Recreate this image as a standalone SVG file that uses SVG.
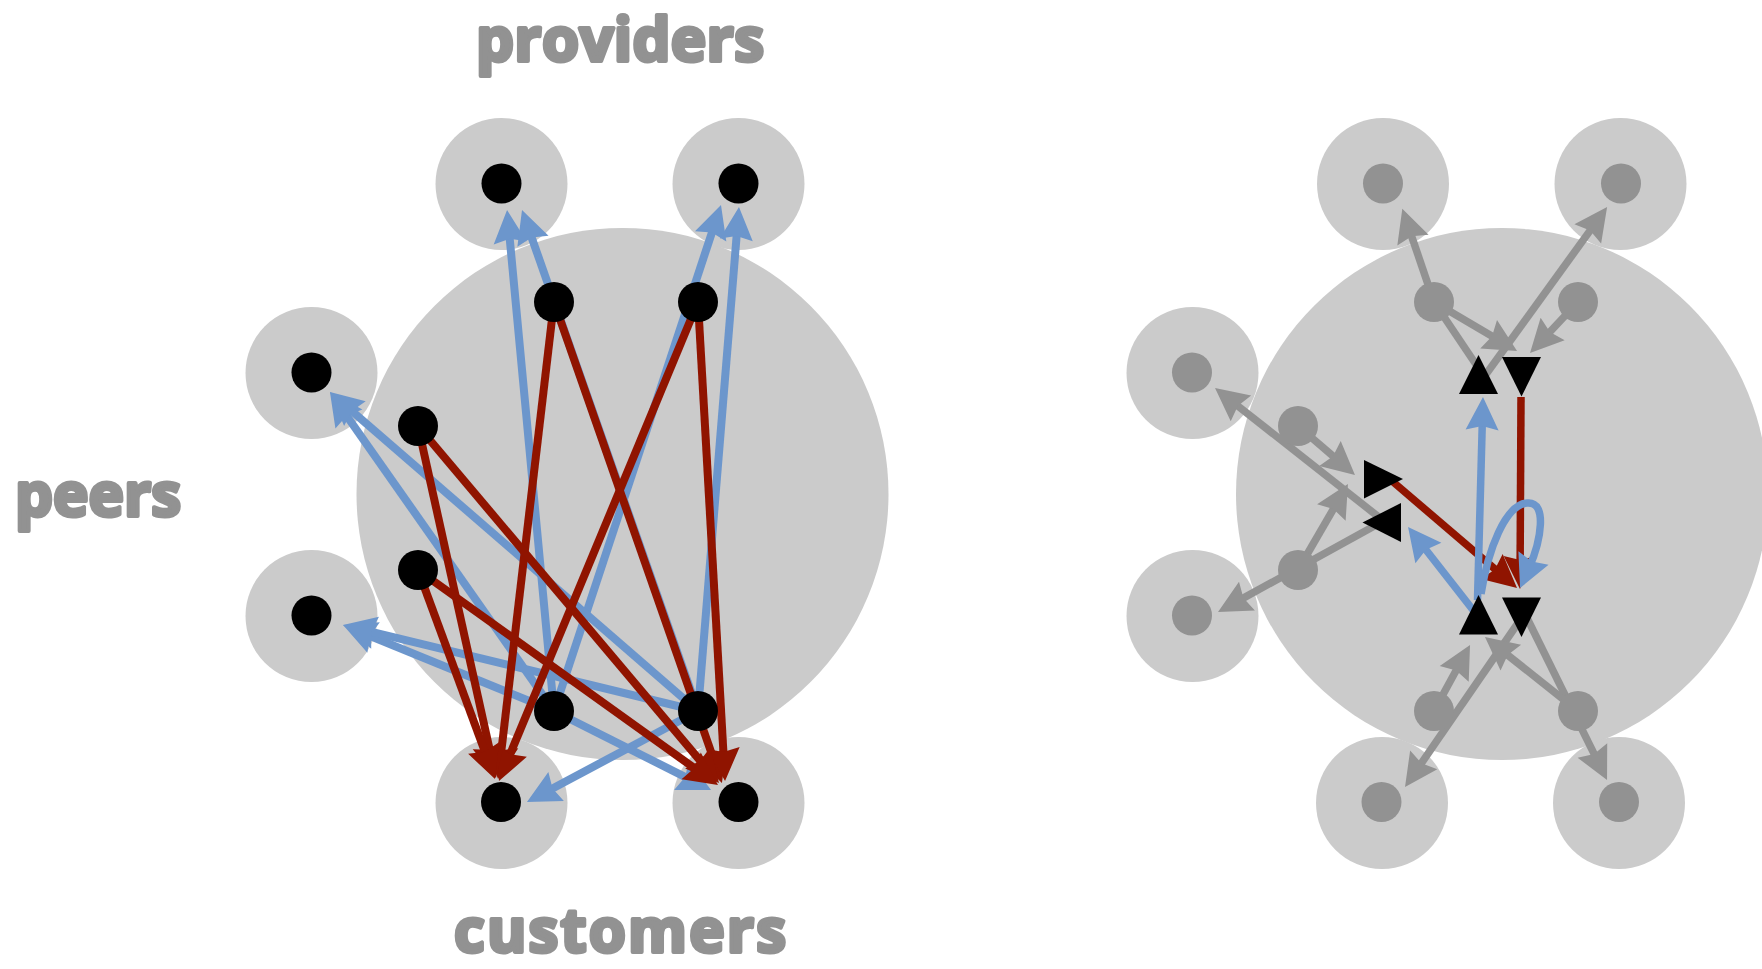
<svg xmlns="http://www.w3.org/2000/svg" width="1762" height="969" viewBox="0 0 1762 969">
<defs>
<style>
.big,.ring{fill:#cbcbcb}
.dot{fill:#000}
.gdot{fill:#929292}
.tri{fill:#000}
.bl{fill:none;stroke:#6c96cc;stroke-width:8;marker-end:url(#mb)}
.rd{fill:none;stroke:#901400;stroke-width:8;marker-end:url(#mr)}
.bl2{fill:none;stroke:#6c96cc;stroke-width:7.5;marker-end:url(#mb)}
.rd2{fill:none;stroke:#901400;stroke-width:7.5;marker-end:url(#mr)}
.gy{fill:none;stroke:#929292;stroke-width:7.5;marker-end:url(#mg)}
.gn{fill:none;stroke:#929292;stroke-width:7.5}
.lbl{font-family:"Open Sans","Liberation Sans",sans-serif;font-weight:700;font-size:60px;fill:#929292;stroke:#929292;stroke-width:4;stroke-linejoin:round}
</style>
<marker id="mb" markerUnits="userSpaceOnUse" orient="auto" refX="0" refY="0" markerWidth="40" markerHeight="40" overflow="visible"><path d="M22,0 L-11,-16.5 L-7,0 L-11,16.5 z" fill="#6c96cc"/></marker>
<marker id="mr" markerUnits="userSpaceOnUse" orient="auto" refX="0" refY="0" markerWidth="40" markerHeight="40" overflow="visible"><path d="M22,0 L-11,-16.5 L-7,0 L-11,16.5 z" fill="#901400"/></marker>
<marker id="mg" markerUnits="userSpaceOnUse" orient="auto" refX="0" refY="0" markerWidth="40" markerHeight="40" overflow="visible"><path d="M22,0 L-11,-16.5 L-7,0 L-11,16.5 z" fill="#929292"/></marker>
</defs>
<rect width="1762" height="969" fill="#fff"/>

<!-- labels -->
<text class="lbl" x="476" y="61" textLength="288" lengthAdjust="spacing">providers</text>
<text class="lbl" x="15" y="516" textLength="166" lengthAdjust="spacing">peers</text>
<text class="lbl" x="454" y="952" textLength="332" lengthAdjust="spacing">customers</text>

<!-- LEFT DIAGRAM -->
<circle id="L-as" class="big" cx="622.5" cy="494" r="266"/>
<g id="L-prov1"><circle class="ring" cx="501.5" cy="184" r="66"/><circle class="dot" cx="501.5" cy="183.5" r="20"/></g>
<g id="L-prov2"><circle class="ring" cx="738.5" cy="184" r="66"/><circle class="dot" cx="738.5" cy="183.5" r="20"/></g>
<g id="L-peer1"><circle class="ring" cx="311.5" cy="373" r="66"/><circle class="dot" cx="311.5" cy="372.5" r="20"/></g>
<g id="L-peer2"><circle class="ring" cx="311.5" cy="616" r="66"/><circle class="dot" cx="311.5" cy="615.5" r="20"/></g>
<g id="L-cust1"><circle class="ring" cx="501.5" cy="803" r="66"/><circle class="dot" cx="501" cy="802" r="20"/></g>
<g id="L-cust2"><circle class="ring" cx="738.5" cy="803" r="66"/><circle class="dot" cx="738.5" cy="802" r="20"/></g>

<g id="L-connectors">
<path class="bl" d="M554,711 L509.1,231.9"/>
<path class="bl" d="M698,711 L529.3,230.8"/>
<path class="bl" d="M554,711 L714.1,225.9"/>
<path class="bl" d="M698,711 L737.2,228.9"/>
<path class="bl" d="M554,711 L342.6,410"/>
<path class="bl" d="M698,711 L346.6,406.4"/>
<path class="bl" d="M554,711 L363.4,633.3"/>
<path class="bl" d="M698,711 L364.4,630.2"/>
<path class="bl" d="M698,711 L546.4,791.7"/>
<path class="bl" d="M554,711 L691.4,780.1"/>
<path class="rd" d="M554,302 L500.6,757.2"/>
<path class="rd" d="M698,302 L507.4,760.7"/>
<path class="rd" d="M418,426 L491.2,756.5"/>
<path class="rd" d="M418,570 L487.4,758.4"/>
<path class="rd" d="M554,302 L714.7,762.2"/>
<path class="rd" d="M698,302 L723.8,759"/>
<path class="rd" d="M418,426 L704.8,766.2"/>
<path class="rd" d="M418,570 L700.1,772.2"/>
</g>

<g id="L-in-prov1"><circle class="dot" cx="554" cy="302" r="20"/></g>
<g id="L-in-prov2"><circle class="dot" cx="698" cy="302" r="20"/></g>
<g id="L-in-peer1"><circle class="dot" cx="418" cy="426" r="20"/></g>
<g id="L-in-peer2"><circle class="dot" cx="418" cy="570" r="20"/></g>
<g id="L-in-cust1"><circle class="dot" cx="554" cy="711" r="20"/></g>
<g id="L-in-cust2"><circle class="dot" cx="698" cy="711" r="20"/></g>

<!-- RIGHT DIAGRAM -->
<circle id="R-as" class="big" cx="1502" cy="494" r="266"/>
<g id="R-prov1"><circle class="ring" cx="1383" cy="184" r="66"/><circle class="gdot" cx="1383" cy="183.5" r="20"/></g>
<g id="R-prov2"><circle class="ring" cx="1620.5" cy="184" r="66"/><circle class="gdot" cx="1621" cy="183.5" r="20"/></g>
<g id="R-peer1"><circle class="ring" cx="1192.5" cy="373" r="66"/><circle class="gdot" cx="1192" cy="372.5" r="20"/></g>
<g id="R-peer2"><circle class="ring" cx="1192.5" cy="616" r="66"/><circle class="gdot" cx="1192" cy="615.5" r="20"/></g>
<g id="R-cust1"><circle class="ring" cx="1382" cy="803" r="66"/><circle class="gdot" cx="1381.5" cy="802" r="20"/></g>
<g id="R-cust2"><circle class="ring" cx="1619" cy="803" r="66"/><circle class="gdot" cx="1619" cy="802" r="20"/></g>

<g id="R-connectors">
<path class="gn" d="M1477,366 L1434,302"/>
<path class="gy" d="M1434,302 L1409.4,229.7"/>
<path class="gy" d="M1484,377 L1594.2,224.9"/>
<path class="gy" d="M1434,302 L1498.1,339.8"/>
<path class="gy" d="M1578,302 L1545.1,337"/>
<path class="gy" d="M1380,518 L1232.3,401.6"/>
<path class="gy" d="M1298,426 L1338.3,460.7"/>
<path class="gy" d="M1298,570 L1336.9,503"/>
<path class="gy" d="M1378,524 L1237.3,601.4"/>
<path class="gy" d="M1518,623 L1417.5,768.9"/>
<path class="gy" d="M1527,618 L1597.3,760.3"/>
<path class="gy" d="M1578,711 L1502.2,650.7"/>
<path class="gy" d="M1434,711 L1459.5,664.3"/>
<path class="rd2" d="M1521,397 L1520.1,567"/>
<path class="rd2" d="M1392,481 L1500.3,573.7"/>
<path class="bl2" d="M1477.5,600 L1482.4,419"/>
<path class="bl2" d="M1473,610 L1421.6,544.3"/>
<path class="bl2" d="M1481,594 C1488,550 1505,505 1527,503 C1548,501 1541,541 1529,568"/>
</g>

<g id="R-in-prov1"><circle class="gdot" cx="1434" cy="302" r="20"/></g>
<g id="R-in-prov2"><circle class="gdot" cx="1578" cy="302" r="20"/></g>
<g id="R-in-peer1"><circle class="gdot" cx="1298" cy="426" r="20"/></g>
<g id="R-in-peer2"><circle class="gdot" cx="1298" cy="570" r="20"/></g>
<g id="R-in-cust1"><circle class="gdot" cx="1434" cy="711" r="20"/></g>
<g id="R-in-cust2"><circle class="gdot" cx="1578" cy="711" r="20"/></g>

<g id="R-export-prov"><polygon class="tri" points="1478.5,355 1459,394 1498,394"/></g>
<g id="R-import-prov"><polygon class="tri" points="1502,357 1541,357 1521.5,396.5"/></g>
<g id="R-export-cust"><polygon class="tri" points="1478.5,595 1459,634.5 1498,634.5"/></g>
<g id="R-import-cust"><polygon class="tri" points="1502,597.5 1541,597.5 1521.5,637"/></g>
<g id="R-import-peer"><polygon class="tri" points="1364,460 1364,498.5 1403,479"/></g>
<g id="R-export-peer"><polygon class="tri" points="1362.5,522.5 1401,503 1401,542"/></g>
</svg>
